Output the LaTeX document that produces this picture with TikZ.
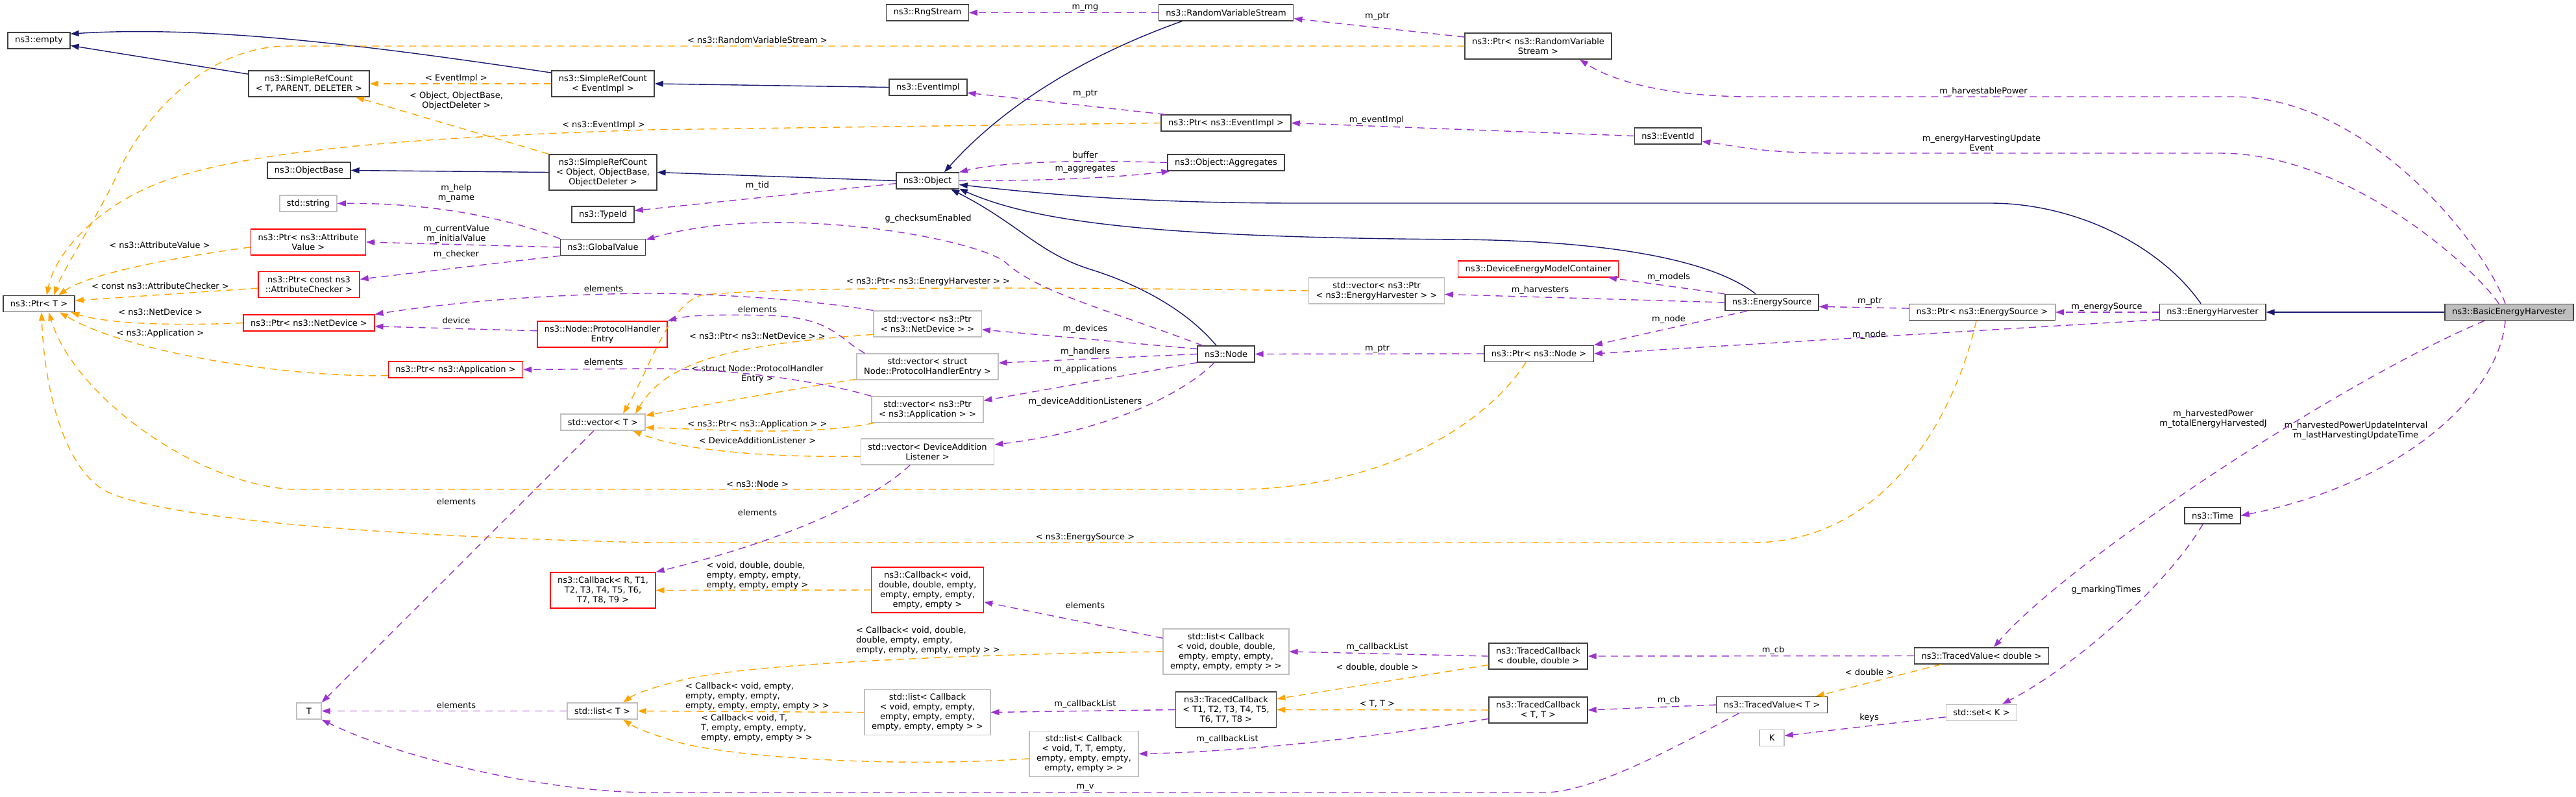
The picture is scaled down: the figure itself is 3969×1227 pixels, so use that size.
\documentclass[tikz,border=0pt]{standalone}
\usepackage{fontspec}
\setmainfont{DejaVu Sans}
\usetikzlibrary{arrows.meta}
\definecolor{inhcol}{HTML}{191970}
\definecolor{memcol}{HTML}{9A32CD}
\definecolor{tplcol}{HTML}{FFA500}
\definecolor{redcol}{HTML}{FF0000}
\definecolor{extcol}{HTML}{BFBFBF}
\definecolor{bordcol}{HTML}{404040}

\begin{document}
\begin{tikzpicture}[
  x=1pt, y=-1pt,
  font=\fontsize{13}{15}\selectfont,
  box/.style={draw=bordcol, line width=1.4pt, fill=white, align=center,
              inner xsep=11pt, inner ysep=5pt, minimum height=25pt, minimum width=38pt},
  clsbox/.style={box},
  extbox/.style={box, draw=extcol},
  redbox/.style={box, draw=redcol},
  curbox/.style={box, fill=extcol},
  l2/.style={minimum height=40pt},
  l3/.style={minimum height=55pt},
  l4/.style={minimum height=70pt},
  lbl/.style={text=black, inner sep=0pt, align=center},
  lbll/.style={text=black, inner sep=0pt, align=left},
  headtip/.style={-{Triangle[length=13pt,width=9pt]}, line width=1.4pt},
  inh/.style={headtip, inhcol},
  mem/.style={headtip, memcol, dash pattern=on 11pt off 8pt},
  tpl/.style={headtip, tplcol, dash pattern=on 11pt off 8pt}
]
\useasboundingbox (0,0) rectangle (3969,1227);

% classes, column by column
\node[clsbox]     (empty)      at (60,62.5)    {ns3::empty};
\node[clsbox, l2] (srcT)       at (476,129)    {ns3::SimpleRefCount\\< T, PARENT, DELETER >};
\node[clsbox]     (objBase)    at (476,262.5)  {ns3::ObjectBase};
\node[extbox]     (str)        at (475,313.5)  {std::string};
\node[redbox, l2] (ptrAttrVal) at (475,373)    {ns3::Ptr< ns3::Attribute\\Value >};
\node[redbox, l2] (ptrAttrChk) at (476,438.5)  {ns3::Ptr< const ns3\\::AttributeChecker >};
\node[clsbox]     (ptrT)       at (60,468)     {ns3::Ptr< T >};
\node[redbox]     (ptrNetDev)  at (476,497.5)  {ns3::Ptr< ns3::NetDevice >};
\node[redbox]     (ptrApp)     at (702,569.5)  {ns3::Ptr< ns3::Application >};
\node[extbox]     (tT)         at (476,1095.5) {T};

\node[clsbox, l2] (srcEv)      at (929,129)    {ns3::SimpleRefCount\\< EventImpl >};
\node[clsbox, l3] (srcObj)     at (929,265.5)  {ns3::SimpleRefCount\\< Object, ObjectBase,\\ObjectDeleter >};
\node[clsbox]     (typeId)     at (929,330.5)  {ns3::TypeId};
\node[clsbox]     (globalVal)  at (929,381)    {ns3::GlobalValue};
\node[redbox, l2] (protoEntry) at (928,515)    {ns3::Node::ProtocolHandler\\Entry};
\node[extbox]     (vecT)       at (929,650.5)  {std::vector< T >};
\node[redbox, l3] (cbR)        at (929,909.5)  {ns3::Callback< R, T1,\\T2, T3, T4, T5, T6,\\T7, T8, T9 >};
\node[extbox]     (listT)      at (928,1095.5) {std::list< T >};

\node[clsbox]     (rng)         at (1429,19.5)   {ns3::RngStream};
\node[clsbox]     (evImpl)      at (1430,134.5)  {ns3::EventImpl};
\node[clsbox]     (object)      at (1429,278.5)  {ns3::Object};
\node[extbox, l2] (vecNetDev)   at (1429,499)    {std::vector< ns3::Ptr\\< ns3::NetDevice > >};
\node[extbox, l2] (vecProto)    at (1429,565)    {std::vector< struct\\Node::ProtocolHandlerEntry >};
\node[extbox, l2] (vecApp)      at (1429,631)    {std::vector< ns3::Ptr\\< ns3::Application > >};
\node[extbox, l2] (vecListener) at (1429,696)    {std::vector< DeviceAddition\\Listener >};
\node[redbox, l4] (cbDbl)       at (1429,909)    {ns3::Callback< void,\\double, double, empty,\\empty, empty, empty,\\empty, empty >};
\node[extbox, l4] (listCbEmpty) at (1429,1097.5) {std::list< Callback\\< void, empty, empty,\\empty, empty, empty,\\empty, empty, empty > >};
\node[extbox, l4] (listCbTT)    at (1670,1161.5) {std::list< Callback\\< void, T, T, empty,\\empty, empty, empty,\\empty, empty > >};

\node[clsbox]     (rvs)       at (1889,19.5)   {ns3::RandomVariableStream};
\node[clsbox]     (ptrEv)     at (1889,189.5)  {ns3::Ptr< ns3::EventImpl >};
\node[clsbox]     (aggr)      at (1889,250.5)  {ns3::Object::Aggregates};
\node[clsbox]     (nsNode)    at (1889,545.5)  {ns3::Node};
\node[extbox, l4] (listCbDbl) at (1889,1004)   {std::list< Callback\\< void, double, double,\\empty, empty, empty,\\empty, empty, empty > >};
\node[clsbox, l3] (tcT8)      at (1889,1093.5) {ns3::TracedCallback\\< T1, T2, T3, T4, T5,\\T6, T7, T8 >};

\node[clsbox, l2] (ptrRvs)    at (2370,71)     {ns3::Ptr< ns3::RandomVariable\\Stream >};
\node[redbox]     (devModels) at (2370,414.5)  {ns3::DeviceEnergyModelContainer};
\node[extbox, l2] (vecHarv)   at (2121,448)    {std::vector< ns3::Ptr\\< ns3::EnergyHarvester > >};
\node[clsbox]     (ptrNode)   at (2371,545)    {ns3::Ptr< ns3::Node >};
\node[clsbox, l2] (tcDbl)     at (2370,1011)   {ns3::TracedCallback\\< double, double >};
\node[clsbox, l2] (tcTT)      at (2370,1094)   {ns3::TracedCallback\\< T, T >};

\node[clsbox]     (eventId)   at (2570,209.5)  {ns3::EventId};
\node[clsbox]     (eSource)   at (2730,466)    {ns3::EnergySource};
\node[clsbox]     (tvT)       at (2730,1086)   {ns3::TracedValue< T >};
\node[extbox]     (kK)        at (2730,1137)   {K};
\node[clsbox]     (ptrESrc)   at (3054,481)    {ns3::Ptr< ns3::EnergySource >};
\node[clsbox]     (tvDbl)     at (3053,1010.5) {ns3::TracedValue< double >};
\node[extbox]     (setK)      at (3053,1098)   {std::set< K >};
\node[clsbox]     (eHarv)     at (3409,481)    {ns3::EnergyHarvester};
\node[clsbox]     (nsTime)    at (3409,794.5)  {ns3::Time};
\node[curbox]     (basicHarv) at (3866,481)    {ns3::BasicEnergyHarvester};

% inheritance
\draw[inh] (srcT.171) -- (empty.-9);
\draw[inh] (srcEv.168) .. controls (600,75) and (330,38) .. (empty.12);
\draw[inh] (evImpl.west) -- (srcEv.east);
\draw[inh] (srcObj.west) -- (objBase.east);
\draw[inh] (object.west) -- (srcObj.east);
\draw[inh] (rvs.191) .. controls (1660,90) and (1540,170) .. (object.27);
\draw[inh] ([xshift=-18pt]eHarv.north) .. controls (3330,380) and (3200,313) .. (3066,313)
           -- (2000,313) .. controls (1750,313) and (1600,298) .. (object.-7);
\draw[inh] ([xshift=-25pt]eSource.north) .. controls (2650,410) and (2520,372) .. (2250,369)
           .. controls (1800,366) and (1600,345) .. (object.-14);
\draw[inh] ([xshift=-15pt]nsNode.north) .. controls (1830,480) and (1760,440) .. (1680,415)
           .. controls (1600,390) and (1570,345) .. (object.-20);
\draw[inh] (basicHarv.west) -- (eHarv.east);

% template instances
\draw[tpl] (srcEv.west) -- (srcT.east) node[lbl, at={(703,121)}] {< EventImpl >};
\draw[tpl] (srcObj.north west) -- (srcT.-16)
           node[lbl, at={(703,155)}] {< Object, ObjectBase,\\ObjectDeleter >};
\draw[tpl] (ptrRvs.west) -- (440,71) .. controls (330,73) and (230,160) .. (180,270)
           .. controls (155,325) and (95,420) .. ([xshift=23pt]ptrT.north)
           node[lbl, at={(1167,62)}] {< ns3::RandomVariableStream >};
\draw[tpl] (ptrEv.west) -- (1000,200) .. controls (700,210) and (400,225) .. (250,280)
           .. controls (150,317) and (85,390) .. ([xshift=12pt]ptrT.north)
           node[lbl, at={(930,193)}] {< ns3::EventImpl >};
\draw[tpl] (ptrAttrVal.185) .. controls (280,395) and (140,420) .. ([xshift=30pt]ptrT.north)
           node[lbl, at={(246,378)}] {< ns3::AttributeValue >};
\draw[tpl] (ptrAttrChk.184) -- (ptrT.5)
           node[lbl, at={(247,441)}] {< const ns3::AttributeChecker >};
\draw[tpl] (ptrNetDev.west) .. controls (250,503) and (160,497) .. (ptrT.-15)
           node[lbl, at={(247,481)}] {< ns3::NetDevice >};
\draw[tpl] (ptrApp.185) .. controls (450,582) and (200,545) .. ([xshift=32pt]ptrT.south)
           node[lbl, at={(247,514)}] {< ns3::Application >};
\draw[tpl] ([xshift=-20pt]ptrNode.south) .. controls (2300,640) and (2150,754) .. (1900,754)
           -- (450,754) .. controls (300,745) and (115,610) .. ([xshift=15pt]ptrT.south)
           node[lbl, at={(1167,746)}] {< ns3::Node >};
\draw[tpl] ([xshift=-9pt]ptrESrc.south) .. controls (3010,650) and (2900,836) .. (2700,836)
           -- (1000,836) .. controls (650,828) and (280,805) .. (170,760)
           .. controls (100,730) and (68,600) .. ([xshift=4pt]ptrT.south)
           node[lbl, at={(1672,828)}] {< ns3::EnergySource >};
\draw[tpl] (vecHarv.west) .. controls (1700,443) and (1200,440) .. (1080,455)
           .. controls (1030,470) and (1000,570) .. ([xshift=31pt]vecT.north)
           node[lbl, at={(1430,434)}] {< ns3::Ptr< ns3::EnergyHarvester > >};
\draw[tpl] (vecNetDev.191) .. controls (1150,530) and (1030,550) .. ([xshift=50pt]vecT.north)
           node[lbl, at={(1167,518)}] {< ns3::Ptr< ns3::NetDevice > >};
\draw[tpl] (vecProto.190) .. controls (1230,598) and (1080,625) .. (vecT.9)
           node[lbl, at={(1167,576)}] {< struct Node::ProtocolHandler\\Entry >};
\draw[tpl] (vecApp.194) .. controls (1250,672) and (1100,662) .. (vecT.-7)
           node[lbl, at={(1167,654)}] {< ns3::Ptr< ns3::Application > >};
\draw[tpl] (vecListener.184) .. controls (1150,705) and (1040,690) .. (vecT.-16)
           node[lbl, at={(1167,679)}] {< DeviceAdditionListener >};
\draw[tpl] (cbDbl.west) -- (cbR.east)
           node[lbll, at={(1167,887)}] {< void, double, double,\\empty, empty, empty,\\empty, empty, empty >};
\draw[tpl] (listCbDbl.west) .. controls (1500,1008) and (1150,1022) .. (1050,1048)
           .. controls (1010,1058) and (980,1068) .. ([xshift=32pt]listT.north)
           node[lbll, at={(1430,987)}] {< Callback< void, double,\\double, empty, empty,\\empty, empty, empty, empty > >};
\draw[tpl] (listCbEmpty.west) -- (listT.east)
           node[lbll, at={(1167,1073)}] {< Callback< void, empty,\\empty, empty, empty,\\empty, empty, empty, empty > >};
\draw[tpl] (listCbTT.185) .. controls (1400,1182) and (1150,1170) .. (1050,1145)
           .. controls (1005,1132) and (980,1122) .. ([xshift=32pt]listT.south)
           node[lbll, at={(1166,1122)}] {< Callback< void, T,\\T, empty, empty, empty,\\empty, empty, empty > >};
\draw[tpl] (tcDbl.190) -- (tcT8.12) node[lbl, at={(2122,1028)}] {< double, double >};
\draw[tpl] (tcTT.west) -- (tcT8.east) node[lbl, at={(2122,1084)}] {< T, T >};
\draw[tpl] (tvDbl.192) -- (tvT.11) node[lbl, at={(2880,1036)}] {< double >};

% members
\draw[mem] (rvs.west) -- (rng.east) node[lbl, at={(1672,12)}] {m\_rng};
\draw[mem] (ptrRvs.173) -- (rvs.-5) node[lbl, at={(2122,25)}] {m\_ptr};
\draw[mem] (ptrEv.172) -- (evImpl.-8) node[lbl, at={(1672,144)}] {m\_ptr};
\draw[mem] (eventId.west) -- (ptrEv.east) node[lbl, at={(2121,185)}] {m\_eventImpl};
\draw[mem] (object.east) .. controls (1600,279) and (1720,274) .. ([xshift=4pt]aggr.south west)
           node[lbl, at={(1672,260)}] {m\_aggregates};
\draw[mem] (aggr.west) .. controls (1650,246) and (1540,250) .. (object.north east)
           node[lbl, at={(1672,239)}] {buffer};
\draw[mem] (object.185) -- (typeId.7) node[lbl, at={(1167,286)}] {m\_tid};
\draw[mem] (globalVal.north west) .. controls (820,350) and (700,312) .. (str.east)
           node[lbl, at={(703,298)}] {m\_help\\m\_name};
\draw[mem] (globalVal.west) -- (ptrAttrVal.east)
           node[lbl, at={(703,360.5)}] {m\_currentValue\\m\_initialValue};
\draw[mem] (globalVal.south west) -- (ptrAttrChk.6) node[lbl, at={(703,392)}] {m\_checker};
\draw[mem] (nsNode.160) .. controls (1700,475) and (1600,450) .. (1550,405)
           .. controls (1510,369) and (1200,310) .. (globalVal.10)
           node[lbl, at={(1430,337)}] {g\_checksumEnabled};
\draw[mem] (vecNetDev.north west) .. controls (1250,462) and (1100,452) .. (1000,452)
           .. controls (850,453) and (700,465) .. (ptrNetDev.north east)
           node[lbl, at={(930,445)}] {elements};
\draw[mem] (protoEntry.177) -- (ptrNetDev.-3) node[lbl, at={(703,494)}] {device};
\draw[mem] ([xshift=13pt]vecProto.north west) .. controls (1290,520) and (1280,488) .. (1180,486)
           .. controls (1100,484) and (1060,486) .. (protoEntry.north east)
           node[lbl, at={(1167,477)}] {elements};
\draw[mem] (vecApp.north west) .. controls (1280,592) and (1150,568) .. (1000,568) -- (ptrApp.east)
           node[lbl, at={(930,558)}] {elements};
\draw[mem] (nsNode.170) -- (vecNetDev.-6) node[lbl, at={(1672,507)}] {m\_devices};
\draw[mem] (nsNode.west) -- (vecProto.3) node[lbl, at={(1672,542)}] {m\_handlers};
\draw[mem] (nsNode.south west) -- (vecApp.9) node[lbl, at={(1672,569)}] {m\_applications};
\draw[mem] ([xshift=-18pt]nsNode.south) .. controls (1820,610) and (1700,665) .. (vecListener.6)
           node[lbl, at={(1672,619)}] {m\_deviceAdditionListeners};
\draw[mem] ([xshift=-14pt]vecT.south) -- (tT.north east) node[lbl, at={(703,773)}] {elements};
\draw[mem] ([xshift=-27pt]vecListener.south) .. controls (1340,775) and (1200,835) .. (cbR.north east)
           node[lbl, at={(1167,790)}] {elements};
\draw[mem] (listCbDbl.168) -- (cbDbl.-12) node[lbl, at={(1672,933)}] {elements};
\draw[mem] (listT.west) -- (tT.east) node[lbl, at={(703,1087)}] {elements};
\draw[mem] (tcT8.west) -- (listCbEmpty.east) node[lbl, at={(1672,1085)}] {m\_callbackList};
\draw[mem] (tcDbl.west) -- (listCbDbl.east) node[lbl, at={(2122,997)}] {m\_callbackList};
\draw[mem] (tcTT.190) .. controls (2150,1130) and (1950,1157) .. (listCbTT.east)
           node[lbl, at={(1891,1139)}] {m\_callbackList};
\draw[mem] (tvDbl.west) -- (tcDbl.east) node[lbl, at={(2732,1002)}] {m\_cb};
\draw[mem] (tvT.west) -- (tcTT.east) node[lbl, at={(2571,1079)}] {m\_cb};
\draw[mem] ([xshift=-51pt]tvT.south) .. controls (2610,1135) and (2460,1221) .. (2380,1221)
           -- (1000,1221) .. controls (850,1221) and (620,1170) .. (tT.south east)
           node[lbl, at={(1672,1213)}] {m\_v};
\draw[mem] (setK.187) -- (kK.10) node[lbl, at={(2880,1106)}] {keys};
\draw[mem] ([xshift=-15pt]nsTime.south) .. controls (3340,900) and (3200,1025) .. ([xshift=32pt]setK.north)
           node[lbl, at={(3245,909)}] {g\_markingTimes};
\draw[mem] ([xshift=-6pt]basicHarv.south) .. controls (3850,610) and (3700,745) .. (nsTime.east)
           node[lbl, at={(3630,663.5)}] {m\_harvestedPowerUpdateInterval\\m\_lastHarvestingUpdateTime};
\draw[mem] ([xshift=-38pt]basicHarv.south) .. controls (3600,590) and (3180,870) .. ([xshift=19pt]tvDbl.north)
           node[lbl, at={(3410,645.5)}] {m\_harvestedPower\\m\_totalEnergyHarvestedJ};
\draw[mem] ([xshift=-6pt]basicHarv.north) .. controls (3830,380) and (3650,149) .. (3440,149)
           -- (2700,149) .. controls (2560,149) and (2480,122) .. ([xshift=64pt]ptrRvs.south)
           node[lbl, at={(3056,141)}] {m\_harvestablePower};
\draw[mem] ([xshift=-16pt]basicHarv.north) .. controls (3815,415) and (3620,236) .. (3420,236)
           -- (2830,236) .. controls (2720,236) and (2680,226) .. (eventId.-9)
           node[lbl, at={(3053,220.5)}] {m\_energyHarvestingUpdate\\Event};
\draw[mem] (eHarv.west) -- (ptrESrc.east) node[lbl, at={(3246,473)}] {m\_energySource};
\draw[mem] (eHarv.188) -- (ptrNode.east) node[lbl, at={(2880,516)}] {m\_node};
\draw[mem] (ptrESrc.177) -- (eSource.-5) node[lbl, at={(2881,464)}] {m\_ptr};
\draw[mem] (eSource.199) -- (ptrNode.north east) node[lbl, at={(2571,492)}] {m\_node};
\draw[mem] (eSource.west) -- (vecHarv.-3) node[lbl, at={(2373,447)}] {m\_harvesters};
\draw[mem] (eSource.north west) -- ([xshift=108pt]devModels.south) node[lbl, at={(2571,427)}] {m\_models};
\draw[mem] (ptrNode.west) -- (nsNode.east) node[lbl, at={(2122,537)}] {m\_ptr};
\end{tikzpicture}
\end{document}
